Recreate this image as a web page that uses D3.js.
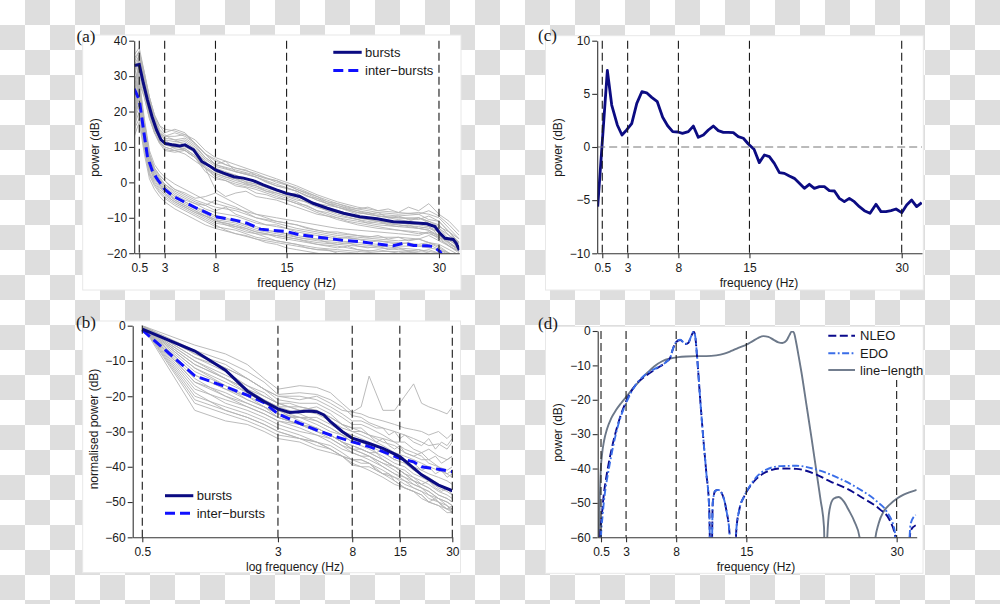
<!DOCTYPE html>
<html><head><meta charset="utf-8">
<script src="https://cdn.jsdelivr.net/npm/d3@7"></script>
<style>body{margin:0;background:#fff}svg{display:block}</style>
</head><body><svg id="chart" width="1000" height="604"></svg>
<script>
// ---------------- DATA ----------------
const MARK_FREQS = [0.5, 3, 8, 15, 30];
const A_YTICKS = [-20, -10, 0, 10, 20, 30, 40];
const B_YTICKS = [-60, -50, -40, -30, -20, -10, 0];
const C_YTICKS = [-10, -5, 0, 5, 10];
const D_YTICKS = [-60, -50, -40, -30, -20, -10, 0];

// (a) power spectra
const A_FREQ = [0,0.5,1,1.5,2,2.5,3,4,5,6,7,8,10,12,14,16,18,20,22,24,26,28,29,30,31,32];
const A_GRAY_BURSTS = [
  [36,38,31,24,19,16,15,14.5,13.5,11,8,6,4,2.5,0,-1.5,-4,-6,-7.5,-8.5,-9,-8.5,-9,-10,-13,-16],
  [30,35,29,22,17,14,12.5,12,12.5,10.5,7,5,3,1.5,-0.5,-2.5,-5,-7,-8.5,-9.5,-10,-10.5,-9.5,-11,-14,-17],
  [20,32,28,21,16,13,11,10,10,8.5,5.5,4,2,0,-2,-4,-6,-8,-9.5,-10.5,-11,-11.5,-12,-13,-16,-19],
  [14,30,25,19,14,11.5,10,9,9.5,7.5,4.5,2.5,0.5,-1,-3,-4.5,-7,-9,-10.5,-11.5,-12,-12.5,-13,-14,-17,-19.5],
  [33,36,30,23,18,14.5,13,13,13.5,12,9,7,5,3,1,-1,-3.5,-5.5,-7,-8,-8.5,-9,-8,-9.5,-12,-15],
  [28,33,27,20,15,12,10.5,10,10.5,9,6,3,1,-0.5,-2.5,-4,-6.5,-8.5,-10,-11,-11.5,-12,-12.5,-14,-16.5,-18],
  [18,31,26,20,15.5,12.5,11,11,11.5,9.5,6.5,4.5,3,1.5,-1,-2.5,-5,-7,-8.5,-9.5,-10,-10,-11,-12,-15,-17],
  [24,34,28,21,16,12.5,11,9.5,9,7,4,2,0,-1.5,-3.5,-5.5,-8,-10,-11,-12,-12.5,-13,-13.5,-15,-17.5,-19],
  [35,37,30,22.5,17.5,14,12,11.5,12,10,7,5,3.5,2,0.5,-2,-4.5,-6.5,-8,-9,-9.5,-9,-10.5,-11,-14,-17.5],
  [16,29,24,18,14,11,9,8.5,9,7,4,1.5,-0.5,-2,-4,-6,-8.5,-10.5,-12,-13,-13.5,-14,-14.5,-15.5,-18,-19.5]
];
const A_GRAY_INTER = [
  [30,29,18,9,5,3,1.5,-0.5,-2,-3.5,-5,-6,-7.5,-9,-10,-11,-12,-13,-13.5,-14,-14.5,-15,-14,-15,-17,-19],
  [25,26,15,7,3.5,1.5,-0.5,-3,-4.5,-6,-7.5,-8.5,-9.5,-11.5,-12.5,-13.5,-14.5,-15.5,-16,-16.5,-17,-17.5,-17,-18,-20,-21],
  [20,22,12,4,1,-1,-3,-5,-6.5,-8,-9.5,-11,-12,-14,-15,-16,-17,-17.5,-18,-18.5,-19,-19.5,-19,-20,-21,-22],
  [15,18,9,2,-1,-3,-4.5,-6.5,-8,-9.5,-11,-12.5,-13.5,-15.5,-16.5,-17.5,-18.5,-19,-19.5,-20,-20.5,-21,-20.5,-21,-22,-23],
  [28,27,17,8,4,2,0.5,-2,-3.5,-5,-6,-7,-8,-10,-11,-12,-13.5,-14.5,-15,-15.5,-15.5,-16,-15,-16.5,-18,-20],
  [22,24,14,6,2.5,0.5,-1.5,-4,-5.5,-7,-8.5,-10,-11,-13,-14,-15,-16,-16.5,-17,-17.5,-18,-18,-18.5,-19,-20.5,-21.5],
  [18,21,11,3,0,-2,-3.5,-5.5,-7,-8.5,-10,-11.5,-12.5,-14.5,-15,-16,-17.5,-18,-19,-19.5,-19.5,-20,-20,-20.5,-21.5,-22.5],
  [26,25,16,7.5,3,1,-1,-3.5,-5,-6,-6.5,-5,-7,-10,-11.5,-13,-14,-15,-15.5,-16,-16.5,-16,-17,-17.5,-19,-20.5],
  [24,23,13,5,1.5,-0.5,-2.5,-4.5,-6,-7.5,-9,-10.5,-11.5,-13.5,-14.5,-15.5,-16.5,-17,-17.5,-18,-18.5,-19,-19.5,-20,-21,-22],
  [13,17,8,1,-2,-4,-5.5,-7.5,-9,-10.5,-12,-13,-14.5,-16,-17,-18,-19,-19.5,-20,-20.5,-21,-21.5,-21,-21.5,-22.5,-23.5]
];
const A_FREQ_FINE = [0,0.5,1,1.5,2,2.5,3,3.5,4,5,6,7,8,9,10,11,12,13,14,15,16,17,18,19,20,21,22,23,24,25,26,27,28,29,30,31,32];
const A_GRAY_BURSTS_FINE = [
  [22,34,29,22,17,14,13,13.5,14,13,11,8,6.5,5,4,3.5,2,1,0.5,-0.5,-2,-3,-4,-5.5,-6,-7,-7.5,-7,-8,-7.5,-8.5,-7,-8,-6,-9,-11,-14],
  [31,36,30,23,17.5,14,12,11,10.5,9,7,3,1,0.5,-1,-1.5,-3,-3.5,-4.5,-5,-6,-6.5,-8,-8.5,-9.5,-10,-10.5,-11.5,-11,-12,-12.5,-12,-13,-12.5,-15,-16,-18],
  [26,35,30,24,19,16,14,14.5,15,14,11,8,5,6,3,2.5,1.5,0,-1,-1.5,-2.5,-4,-4.5,-6,-6.5,-7.5,-8,-9,-8.5,-10,-9.5,-10.5,-10,-11,-12.5,-14,-16],
  [17,31,26,19,14.5,11.5,9.5,9,9,8,6,4,2.5,1.5,1,-0.5,-1,-2.5,-3,-4,-5,-5.5,-6.5,-8,-8.5,-9,-10,-10.5,-11,-11.5,-12,-12.5,-13,-13.5,-15.5,-17,-19],
  [34,37,31,24,18.5,15,13.5,12.5,12,10.5,8.5,6,3,2.5,2,0,-0.5,-1,-2,-3.5,-3,-5,-6,-6.5,-7,-8,-9,-8.5,-9.5,-10,-10.5,-11,-10,-11.5,-13,-15,-17],
  [12,28,24,18,14,11,10,9.5,10,9.5,7.5,4,-2,-4,-3,-2.5,-4,-4.5,-5,-6,-7,-8,-9,-9.5,-10,-11,-11.5,-12,-12.5,-13,-13.5,-14,-14.5,-14,-16,-18,-19.5]
];
const A_GRAY_INTER_FINE = [
  [27,28,17,8,4,2,0.5,-1,-2,-3,-4.5,-4,-3,-4.5,-6,-7.5,-9,-10,-11,-11.5,-12,-13,-13.5,-14,-14,-14.5,-15,-15.5,-15,-16,-15.5,-16.5,-16,-17,-18.5,-20,-21],
  [21,24,13,5,1.5,-0.5,-2.5,-3.5,-5,-6.5,-8,-9.5,-11,-11.5,-12.5,-13,-14,-14.5,-15.5,-16,-16.5,-17,-17.5,-18,-18.5,-18,-19,-19.5,-19,-19.5,-20,-19.5,-20,-20.5,-21,-22,-23],
  [16,20,10,2.5,-0.5,-2.5,-4,-5,-6,-7.5,-9,-10.5,-12,-13.5,-14.5,-15,-16,-17,-17.5,-18.5,-19,-19.5,-20,-20.5,-21,-21,-21.5,-22,-22,-22.5,-22,-23,-22.5,-23,-23.5,-24,-25],
  [29,27,16,7,3,1,-0.5,-1.5,-2.5,-4,-5.5,-6.5,-8,-7,-9,-10,-11,-12,-12,-13,-14,-14.5,-15,-15.5,-16,-15.5,-16,-17,-16.5,-17,-17.5,-17,-18,-17.5,-19,-20,-21],
  [19,22,12,4,0.5,-1.5,-3,-4.5,-5.5,-7,-8.5,-9.5,-10.5,-12,-13,-14,-14.5,-15.5,-16.5,-17,-17.5,-18.5,-19,-19,-20,-20.5,-20,-21,-21.5,-21,-22,-21.5,-22.5,-22,-23,-24,-24.5],
  [24,25,14.5,6,2,0,-2,-3,-4,-5.5,-7,-8,-9.5,-10,-11,-12,-12.5,-13.5,-14,-14.5,-15.5,-16,-16,-17,-17.5,-17,-18,-18.5,-18,-19,-18.5,-19.5,-19,-20,-20.5,-21.5,-22.5]
];
const A_BURSTS_F = [0,0.5,0.9,1.3,1.75,2.2,2.65,3.05,3.7,4.5,5.0,5.85,6.65,7.5,8.0,8.8,9.8,10.75,11.7,12.7,14.0,15.0,16.3,17.6,19.0,20.6,22.2,23.9,25.5,27.1,28.8,29.6,30.1,30.6,31.4,31.7,32];
const A_BURSTS_P = [33,33.3,28,23.3,18.6,14.8,12,11,10.6,10.3,10.6,9.2,5.9,4.5,3.5,2.6,1.6,1.2,0.5,-0.7,-2.1,-3.1,-4.0,-5.9,-7.3,-8.7,-9.7,-10.3,-11.1,-11.3,-11.7,-12.5,-14.4,-15.8,-16.1,-17.2,-19.1];
const A_INTER_F = [0,0.5,0.92,1.3,1.75,2.2,3.05,3.9,4.85,6.15,8.0,9.8,11.1,12.4,13.7,15,16.3,17.6,19,20.6,22.2,23.9,25.5,26.5,27.5,28.8,29.4,30.1,30.4];
const A_INTER_P = [26.4,23.3,14.8,7.3,3.5,1.2,-2.1,-4.0,-5.4,-7.3,-9.7,-10.6,-11.5,-13.2,-13.6,-13.9,-14.8,-15.3,-15.8,-16.4,-16.7,-17.4,-17.9,-17.2,-17.8,-17.9,-18.1,-19.5,-21];

// (b) normalised spectra, log frequency
const B_FREQ = [0.5,1,1.5,2,2.5,3,4,5,6,7,8,9,10,12,14,16,18,20,22,25,28,30];
const B_GRAY = [
  [0,-5.5,-8,-11,-15,-18,-17,-17.5,-19,-22,-24.5,-25,-26,-27,-28,-29,-29.5,-30,-31,-30,-32,-30.5],
  [0,-8,-11,-15,-18,-21,-22,-22,-24,-26,-28,-28,-29,-31,-33,-33,-35,-36,-35,-37,-38,-37],
  [0,-10,-14,-17,-20,-22,-24,-25,-27,-29,-30,-31,-32,-34,-36,-37,-38,-39,-40,-41,-42,-43],
  [0,-12,-16,-19,-21,-23,-25,-27,-29,-31,-32,-33,-34,-36,-38,-39,-41,-42,-43,-45,-46,-47],
  [0,-14,-18,-20,-22,-24,-27,-29,-31,-33,-34,-35,-36,-38,-40,-42,-43,-45,-46,-48,-49,-50],
  [0,-16,-19,-22,-24,-26,-28,-30,-32,-34,-35,-36,-37,-39,-41,-43,-45,-46,-47,-49,-51,-52],
  [0,-18,-21,-23,-25,-27,-29,-31,-33,-35,-36,-37,-38,-40,-42,-44,-46,-47,-48,-50,-51,-53],
  [0,-20,-23,-25,-27,-29,-31,-33,-34,-36,-38,-39,-39,-41,-43,-45,-46,-47,-49,-50,-52,-52],
  [0,-22,-25,-27,-29,-31,-32,-34,-35,-37,-39,-40,-40,-42,-44,-46,-47,-48,-50,-51,-52,-53],
  [0,-24,-27,-28,-30,-32,-33,-35,-36,-37,-39.5,-40,-41,-43,-45,-46,-47,-49,-50,-51,-53,-53],
  [0,-9,-13,-17,-19,-22,-24,-23,-25,-28,-30,-30,-31,-33,-34,-36,-37,-38,-38,-40,-41,-40],
  [0,-11,-15,-19,-22,-24,-26,-28,-30,-31,-33,-34,-35,-37,-39,-40,-42,-43,-44,-46,-47,-48],
  [0,-13,-17,-21,-23,-26,-28,-30,-31,-33,-35,-35,-36,-38,-40,-41,-43,-44,-45,-47,-48,-49],
  [0,-7,-10,-13,-16,-19.5,-19,-19.5,-21,-23,-25.5,-26,-27.5,-29,-30,-31,-32,-33,-34,-33.5,-35,-33],
  [0,-8,-12,-15,-18,-20,-21,-20,-22,-24,-24.5,-23,-14.3,-24,-24,-20,-16.5,-22,-23,-24,-25,-23],
  [0,-15,-20,-23,-25,-27,-28,-29,-31,-33,-35,-36,-37,-39,-40,-42,-44,-45,-46,-48,-49,-50],
  [0,-17,-22,-24,-26,-28,-30,-31,-32,-34,-36,-37,-37,-40,-42,-43,-44,-46,-47,-49,-50,-51],
  [0,-12,-17,-20,-23,-25,-26,-26,-28,-30,-31,-32,-33,-35,-36,-38,-39,-41,-42,-43,-44,-45],
  [0,-19,-24,-26,-28,-30,-32,-33,-35,-37,-38,-38,-39,-42,-43,-44,-45,-46,-48,-49,-50,-51],
  [0,-10,-15,-18,-21,-23,-23,-24,-26,-28,-29,-29,-31,-32,-33,-35,-36,-37,-39,-40,-42,-41]
];
const B_FREQ_FINE = [0.5,1,1.5,2,2.5,3,3.5,4,5,6,7,8,9,10,11,12,13,14,15,16,18,20,22,24,26,28,30];
const B_GRAY_FINE = [
  [0,-9,-12,-15,-18,-20,-20,-20,-21,-23,-25,-27,-27,-28,-29,-29,-31,-30,-32,-31,-33,-34,-32,-35,-33,-34,-32],
  [0,-14,-18,-21,-23,-25,-26,-26,-27,-29,-31,-33,-33,-34,-36,-35,-37,-38,-37,-39,-40,-41,-40,-42,-41,-43,-42],
  [0,-21,-24,-26,-28,-30,-31,-32,-33,-35,-37,-38,-38,-39,-41,-42,-42,-44,-45,-46,-47,-48,-50,-49,-51,-52,-51],
  [0,-16,-20,-22,-24,-26,-27,-28,-29,-31,-33,-34,-35,-36,-36,-38,-39,-40,-41,-42,-44,-45,-44,-46,-47,-46,-48],
  [0,-11,-15,-18,-20,-22,-22,-23,-24,-26,-28,-29,-30,-31,-33,-32,-34,-35,-34,-36,-37,-36,-38,-37,-39,-38,-37]
];
const B_BURSTS_F = [0.5,1,1.5,2,2.5,3,3.5,4,4.5,5,5.5,6,7,8,9,10,12,15,18,20,25,30];
const B_BURSTS_P = [-1,-7.2,-12.6,-18.5,-21.5,-23.6,-24.6,-24.4,-24.2,-24.4,-25.3,-27.2,-30,-31.9,-32.7,-33.4,-34.8,-37.1,-40.4,-42.3,-45.2,-46.8];
const B_INTER_F = [0.5,1,1.5,2,2.5,3,4,5,6,8,10,12,15,18,20,25,30];
const B_INTER_P = [-1.2,-14.2,-17.3,-19.7,-21.8,-25,-27.7,-29.6,-31,-32.9,-34.3,-35.7,-37.6,-38.6,-40,-40.7,-41.4];

// (c) difference spectrum
const C_F = [0.05,1.0,1.43,1.98,2.44,2.9,3.4,3.9,4.4,4.87,5.37,5.92,6.45,6.94,7.44,7.96,8.4,8.98,9.47,9.96,10.46,10.95,11.44,11.93,12.43,12.92,13.41,13.9,14.4,14.89,15.45,15.97,16.47,16.96,17.45,17.95,18.44,18.93,19.42,19.92,20.41,20.9,21.39,21.89,22.38,22.87,23.37,23.86,24.35,24.84,25.33,25.83,26.32,26.88,27.47,27.96,28.45,28.95,29.44,30.0,30.49,30.98,31.47,31.97];
const C_P = [-5.6,7.2,3.95,2.07,1.13,1.6,2.2,4.1,5.2,5.1,4.67,4.26,2.8,2.0,1.44,1.41,1.28,1.44,1.97,0.91,1.13,1.6,1.97,1.54,1.38,1.38,1.35,0.97,0.82,0.28,-0.22,-1.47,-0.75,-0.91,-1.54,-2.41,-2.48,-2.73,-2.95,-3.42,-3.89,-3.51,-3.89,-3.73,-3.73,-4.1,-4.14,-4.83,-5.14,-4.83,-5.14,-5.61,-5.99,-6.24,-5.39,-6.08,-6.08,-5.99,-5.83,-6.18,-5.46,-4.99,-5.61,-5.24];

// (d) filter responses
const D_NLEO_F = [0.35,0.42,0.6,0.8,1.0,1.3,1.7,2.2,3.0,4.0,5.0,6.0,7.0,7.4,7.7,8.0,8.4,8.9,9.2,9.5,9.75,9.9,10.1,10.4,10.7,11.0,11.3,11.48,11.65,11.9,12.2,12.6,13.0,13.35,13.7,14.0,14.3,14.8,15.3,16,17,18.4,20,21.7,23.4,25,26.7,28.3,29.3,30,30.4,31.0,31.4,31.9];
const D_NLEO_P = [-80,-60,-53,-47,-43,-38,-32.5,-27,-20.5,-15.5,-13,-11,-9,-7.8,-5,-3.2,-2.6,-3.8,-3.5,-1.5,-0.2,-1.5,-8,-20,-31,-41,-52,-80,-50,-46.5,-46.2,-47.5,-52,-60,-85,-58,-52,-48,-45.5,-43,-41,-40,-40.1,-41.4,-43.8,-45.8,-48.7,-51.8,-55,-62,-80,-75,-58,-56.5];
const D_EDO_F = [0.42,0.5,0.65,0.85,1.05,1.35,1.75,2.2,3.0,4.0,5.0,6.0,7.0,7.4,7.7,8.0,8.4,8.9,9.2,9.5,9.75,9.9,10.1,10.4,10.7,11.0,11.3,11.48,11.65,11.9,12.2,12.6,13.0,13.35,13.7,14.0,14.3,14.8,15.3,16,17,18.4,20,22,24,26,28,29,29.8,30.1,31.0,31.4,31.9];
const D_EDO_P = [-80,-60,-54,-48,-44,-39,-33,-27.5,-21,-15.5,-12.5,-10.8,-9,-7.8,-5,-3.2,-2.5,-3.7,-3.5,-1.5,-0.2,-1.5,-8,-20,-31,-41,-52,-80,-50,-46.5,-46.2,-47.5,-52,-60,-85,-58,-52,-48,-45.3,-42.5,-40.3,-39.3,-39.2,-40.3,-42.5,-45.5,-49.5,-52.5,-58,-80,-75,-56,-53.5];
const D_LL_F = [0.2,0.3,0.45,0.6,0.8,1.1,1.5,2.0,2.5,3.0,3.6,4.2,5.0,5.8,6.6,7.4,8.2,9,10,11,12,12.8,13.5,14.2,15,15.6,16.2,16.7,17.2,17.7,18.2,18.6,19.0,19.3,19.55,19.75,19.95,20.2,20.5,21,21.5,22,22.4,22.75,22.9,23.05,23.3,23.7,24.2,24.7,25.2,25.8,26.3,26.6,27.5,27.8,28.2,28.7,29.3,30,30.7,31.4,32];
const D_LL_P = [-80,-60,-42,-36,-32,-28.5,-25.5,-23,-21,-19.2,-17,-15,-12.5,-10.3,-8.8,-8,-7.6,-7.4,-7.3,-7.3,-7.1,-6.6,-5.8,-4.9,-4,-3,-2,-1.5,-1.7,-2.5,-3.3,-3.5,-2.8,-1.2,-0.1,-0.5,-3,-7,-12,-21.5,-31,-41,-49,-57,-80,-62,-52,-48.8,-48.3,-49.5,-52,-55.5,-60,-80,-80,-62,-56,-52.5,-50.5,-48.8,-47.6,-46.8,-46.2];

// ---------------- DRAWING ----------------
const FONT = '"Liberation Sans", Arial, Helvetica, sans-serif';
const SERIF = '"Liberation Serif", "DejaVu Serif", serif';
const NAVY = "#0b0b82", BLUE = "#1010ff", GRAY = "#b3b3b3", AXIS = "#333";
const svg = d3.select("#chart");
const defs = svg.append("defs");

// transparency checkerboard background
const pat = defs.append("pattern").attr("id", "chk").attr("patternUnits", "userSpaceOnUse").attr("width", 50).attr("height", 50);
pat.append("rect").attr("width", 50).attr("height", 50).attr("fill", "#fff");
pat.append("rect").attr("x", 25).attr("y", 0).attr("width", 25).attr("height", 25).attr("fill", "#dedede");
pat.append("rect").attr("x", 0).attr("y", 25).attr("width", 25).attr("height", 25).attr("fill", "#dedede");
svg.append("rect").attr("width", 1000).attr("height", 604).attr("fill", "url(#chk)");

function panel(id, box, x, y) {
  svg.append("rect").attr("x", box[0]).attr("y", box[1]).attr("width", box[2] - box[0]).attr("height", box[3] - box[1])
    .attr("fill", "#fff").attr("stroke", "#e8e8e8").attr("stroke-width", 1);
  const [x0, x1] = x.range(), [yb, yt] = y.range();
  defs.append("clipPath").attr("id", id).append("rect").attr("x", x0).attr("y", yt).attr("width", x1 - x0).attr("height", yb - yt);
  const g = svg.append("g");
  const plot = g.append("g").attr("clip-path", `url(#${id})`);
  return { g, plot };
}
function vlines(g, x, y) {
  MARK_FREQS.forEach(f => {
    g.append("line").attr("x1", x(f)).attr("x2", x(f)).attr("y1", y.range()[1]).attr("y2", y.range()[0])
      .attr("stroke", "#1a1a1a").attr("stroke-width", 1.1).attr("stroke-dasharray", "8,4");
  });
}
function axes(g, x, y, yTicks) {
  const ax = g.append("g").attr("transform", `translate(0,${y.range()[0]})`)
    .call(d3.axisBottom(x).tickValues(MARK_FREQS).tickFormat(d => String(d)).tickSize(5).tickSizeOuter(0).tickPadding(5.5));
  const ay = g.append("g").attr("transform", `translate(${x.range()[0]},0)`)
    .call(d3.axisLeft(y).tickValues(yTicks).tickFormat(d3.format("d")).tickSize(5).tickSizeOuter(0).tickPadding(2));
  [ax, ay].forEach(a => {
    a.attr("font-family", FONT).attr("font-size", 12);
    a.select(".domain").attr("stroke", AXIS).attr("stroke-width", 1.1);
    a.selectAll(".tick line").attr("stroke", AXIS).attr("stroke-width", 1.1);
    a.selectAll(".tick text").attr("fill", "#1a1a1a");
  });
}
function label(g, txt, x, y, rot, size, fam) {
  const t = g.append("text").text(txt).attr("font-family", fam || FONT).attr("font-size", size || 12).attr("fill", "#1a1a1a");
  if (rot) t.attr("transform", `translate(${x},${y}) rotate(-90)`).attr("text-anchor", "middle");
  else t.attr("x", x).attr("y", y).attr("text-anchor", "middle");
  return t;
}
function path(plot, xs, ys, x, y, style, curve) {
  const line = d3.line().x(d => x(d[0])).y(d => y(d[1]));
  if (curve) line.curve(curve);
  const p = plot.append("path").datum(d3.zip(xs, ys)).attr("d", line).attr("fill", "none");
  Object.entries(style).forEach(([k, v]) => p.attr(k, v));
  return p;
}
function legend(g, box, items, lx, tx, ys) {
  g.append("rect").attr("x", box[0]).attr("y", box[1]).attr("width", box[2] - box[0]).attr("height", box[3] - box[1]).attr("fill", "#fff");
  items.forEach((it, i) => {
    const l = g.append("line").attr("x1", lx[0]).attr("x2", lx[1]).attr("y1", ys[i]).attr("y2", ys[i]);
    Object.entries(it.style).forEach(([k, v]) => l.attr(k, v));
    g.append("text").text(it.name).attr("x", tx).attr("y", ys[i] + 4.6).attr("font-family", FONT).attr("font-size", 13).attr("fill", "#1a1a1a");
  });
}

// ---- panel (a)
{
  const x = d3.scaleLinear().domain([0, 32]).range([134.2, 459.3]);
  const y = d3.scaleLinear().domain([-20, 40]).range([253.2, 40.7]);
  const { g, plot } = panel("clipA", [82.7, 35, 461, 290], x, y);
  const gs = { stroke: GRAY, "stroke-width": 0.9 };
  A_GRAY_BURSTS.forEach(s => path(plot, A_FREQ, s, x, y, gs));
  A_GRAY_INTER.forEach(s => path(plot, A_FREQ, s, x, y, gs));
  A_GRAY_BURSTS_FINE.forEach(s => path(plot, A_FREQ_FINE, s, x, y, gs));
  A_GRAY_INTER_FINE.forEach(s => path(plot, A_FREQ_FINE, s, x, y, gs));
  vlines(g, x, y);
  path(plot, A_INTER_F, A_INTER_P, x, y, { stroke: BLUE, "stroke-width": 3, "stroke-dasharray": "10,5" });
  path(plot, A_BURSTS_F, A_BURSTS_P, x, y, { stroke: NAVY, "stroke-width": 3 });
  axes(g, x, y, A_YTICKS);
  label(g, "frequency (Hz)", 296.7, 286.5);
  label(g, "power (dB)", 99, 147.5, true);
  g.append("text").text("(a)").attr("x", 76.5).attr("y", 42).attr("font-family", SERIF).attr("font-size", 17).attr("fill", "#1a1a1a");
  legend(g, [327, 43.5, 437, 80], [
    { name: "bursts", style: { stroke: NAVY, "stroke-width": 3 } },
    { name: "inter\u2212bursts", style: { stroke: BLUE, "stroke-width": 3, "stroke-dasharray": "10,5" } }
  ], [333.3, 361.7], 365, [52.3, 70.5]);
}

// ---- panel (b)
{
  const x = d3.scaleLog().domain([0.4405, 30]).range([132.7, 452.3]);
  const y = d3.scaleLinear().domain([-60, 0]).range([537.3, 325.7]);
  const { g, plot } = panel("clipB", [82.7, 321, 460.5, 572.7], x, y);
  B_GRAY.forEach(s => path(plot, B_FREQ, s, x, y, { stroke: GRAY, "stroke-width": 0.9 }));
  B_GRAY_FINE.forEach(s => path(plot, B_FREQ_FINE, s, x, y, { stroke: GRAY, "stroke-width": 0.9 }));
  vlines(g, x, y);
  path(plot, B_INTER_F, B_INTER_P, x, y, { stroke: BLUE, "stroke-width": 3, "stroke-dasharray": "10,5" });
  path(plot, B_BURSTS_F, B_BURSTS_P, x, y, { stroke: NAVY, "stroke-width": 3 });
  axes(g, x, y, B_YTICKS);
  label(g, "log frequency (Hz)", 295, 570.5);
  label(g, "normalised power (dB)", 98, 429, true);
  g.append("text").text("(b)").attr("x", 76).attr("y", 327.5).attr("font-family", SERIF).attr("font-size", 17).attr("fill", "#1a1a1a");
  legend(g, [158.3, 487, 266.7, 523.3], [
    { name: "bursts", style: { stroke: NAVY, "stroke-width": 3 } },
    { name: "inter\u2212bursts", style: { stroke: BLUE, "stroke-width": 3, "stroke-dasharray": "10,5" } }
  ], [165, 193.3], 196.7, [495.7, 513.3]);
}

// ---- panel (c)
{
  const x = d3.scaleLinear().domain([0, 32]).range([597.2, 922]);
  const y = d3.scaleLinear().domain([-10, 10]).range([253.3, 40.7]);
  const { g, plot } = panel("clipC", [545.5, 35.7, 923.3, 290], x, y);
  vlines(g, x, y);
  g.append("line").attr("x1", x.range()[0]).attr("x2", x.range()[1]).attr("y1", y(0)).attr("y2", y(0))
    .attr("stroke", "#777").attr("stroke-width", 1).attr("stroke-dasharray", "8,4");
  path(plot, C_F, C_P, x, y, { stroke: NAVY, "stroke-width": 2.8, "stroke-linejoin": "round" });
  axes(g, x, y, C_YTICKS);
  label(g, "frequency (Hz)", 759, 286.5);
  label(g, "power (dB)", 561.5, 147.5, true);
  g.append("text").text("(c)").attr("x", 538).attr("y", 40.5).attr("font-family", SERIF).attr("font-size", 17).attr("fill", "#1a1a1a");
}

// ---- panel (d)
{
  const x = d3.scaleLinear().domain([0.17, 32]).range([597.7, 916.7]);
  const y = d3.scaleLinear().domain([-60, 0]).range([537.3, 331]);
  const { g, plot } = panel("clipD", [545.5, 326.5, 923, 573.3], x, y);
  vlines(g, x, y);
  const cv = d3.curveMonotoneX;
  const sLL = { stroke: "#6c7889", "stroke-width": 1.9 };
  const sN = { stroke: "#0a0a8c", "stroke-width": 1.9, "stroke-dasharray": "8,3.5" };
  const sE = { stroke: "#3a6ee8", "stroke-width": 1.9, "stroke-dasharray": "7,2.5,1.8,2.5" };
  path(plot, D_LL_F, D_LL_P, x, y, sLL, cv);
  path(plot, D_NLEO_F, D_NLEO_P, x, y, sN, cv);
  path(plot, D_EDO_F, D_EDO_P, x, y, sE, cv);
  axes(g, x, y, D_YTICKS);
  label(g, "frequency (Hz)", 756, 570.5);
  label(g, "power (dB)", 561.5, 432.5, true);
  g.append("text").text("(d)").attr("x", 538).attr("y", 328.5).attr("font-family", SERIF).attr("font-size", 17).attr("fill", "#1a1a1a");
  legend(g, [824, 327.5, 922.5, 380], [
    { name: "NLEO", style: sN },
    { name: "EDO", style: sE },
    { name: "line\u2212length", style: sLL }
  ], [828.3, 855], 860, [335.7, 353.3, 370]);
}
</script>
</body></html>
